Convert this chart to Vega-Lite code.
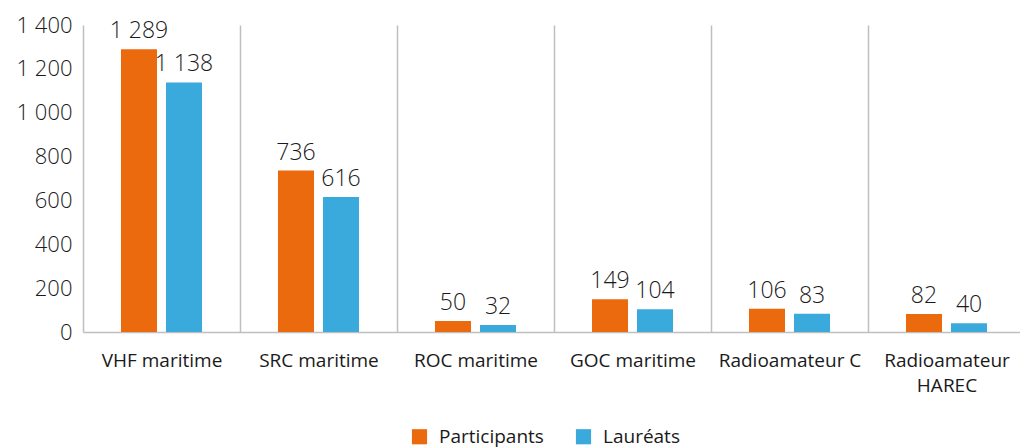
{
  "$schema": "https://vega.github.io/schema/vega-lite/v6.json",
  "width": 942,
  "height": 307,
  "autosize": {"type": "none"},
  "padding": {"left": 83, "top": 25, "right": 0, "bottom": 116},
  "background": "white",
  "config": {
    "locale": {"number": {"decimal": ",", "thousands": " ", "grouping": [3], "currency": ["", " €"]}},
    "font": "Open Sans",
    "view": {"stroke": null}
  },
  "data": {
    "values": [
      {"examen": "VHF maritime", "serie": "Participants", "nombre": 1289},
      {"examen": "VHF maritime", "serie": "Lauréats", "nombre": 1138},
      {"examen": "SRC maritime", "serie": "Participants", "nombre": 736},
      {"examen": "SRC maritime", "serie": "Lauréats", "nombre": 616},
      {"examen": "ROC maritime", "serie": "Participants", "nombre": 50},
      {"examen": "ROC maritime", "serie": "Lauréats", "nombre": 32},
      {"examen": "GOC maritime", "serie": "Participants", "nombre": 149},
      {"examen": "GOC maritime", "serie": "Lauréats", "nombre": 104},
      {"examen": "Radioamateur C", "serie": "Participants", "nombre": 106},
      {"examen": "Radioamateur C", "serie": "Lauréats", "nombre": 83},
      {"examen": "Radioamateur HAREC", "serie": "Participants", "nombre": 82},
      {"examen": "Radioamateur HAREC", "serie": "Lauréats", "nombre": 40}
    ]
  },
  "encoding": {
    "x": {
      "field": "examen",
      "type": "nominal",
      "sort": null,
      "scale": {"paddingInner": 0, "paddingOuter": 0},
      "axis": {
        "title": null,
        "labelAngle": 0,
        "labelFontSize": 19,
        "labelColor": "#1a1a1a",
        "labelPadding": 19,
        "labelLineHeight": 25,
        "labelExpr": "datum.label == 'Radioamateur HAREC' ? ['Radioamateur', 'HAREC'] : datum.label",
        "ticks": false,
        "tickBand": "extent",
        "grid": true,
        "gridColor": "#bfbfbf",
        "gridWidth": 1.5,
        "domainColor": "#bfbfbf",
        "domainWidth": 1.5
      }
    },
    "xOffset": {
      "field": "serie",
      "type": "nominal",
      "sort": ["Participants", "Lauréats"],
      "scale": {"paddingInner": 0.2, "paddingOuter": 0.844}
    },
    "y": {
      "field": "nombre",
      "type": "quantitative",
      "scale": {"domain": [0, 1400]},
      "axis": {
        "title": null,
        "values": [0, 200, 400, 600, 800, 1000, 1200, 1400],
        "format": ",d",
        "grid": false,
        "domain": false,
        "ticks": false,
        "labelFontSize": 22,
        "labelFontWeight": 300,
        "labelColor": "#1a1a1a",
        "labelPadding": 11
      }
    }
  },
  "layer": [
    {
      "mark": {"type": "bar"},
      "encoding": {
        "color": {
          "field": "serie",
          "type": "nominal",
          "sort": ["Participants", "Lauréats"],
          "scale": {"domain": ["Participants", "Lauréats"], "range": ["#ec6a0e", "#3aa9dc"]},
          "legend": {
            "title": null,
            "orient": "none",
            "legendX": 327,
            "legendY": 402,
            "direction": "horizontal",
            "symbolType": "square",
            "symbolSize": 230,
            "symbolStrokeWidth": 0,
            "labelFontSize": 19,
            "labelColor": "#1a1a1a",
            "labelOffset": 10,
            "columnPadding": 30
          }
        }
      }
    },
    {
      "mark": {"type": "text", "baseline": "alphabetic", "dy": -11, "fontSize": 23, "fontWeight": 300, "color": "#1a1a1a"},
      "encoding": {
        "text": {"field": "nombre", "type": "quantitative", "format": ",d"}
      }
    }
  ]
}
